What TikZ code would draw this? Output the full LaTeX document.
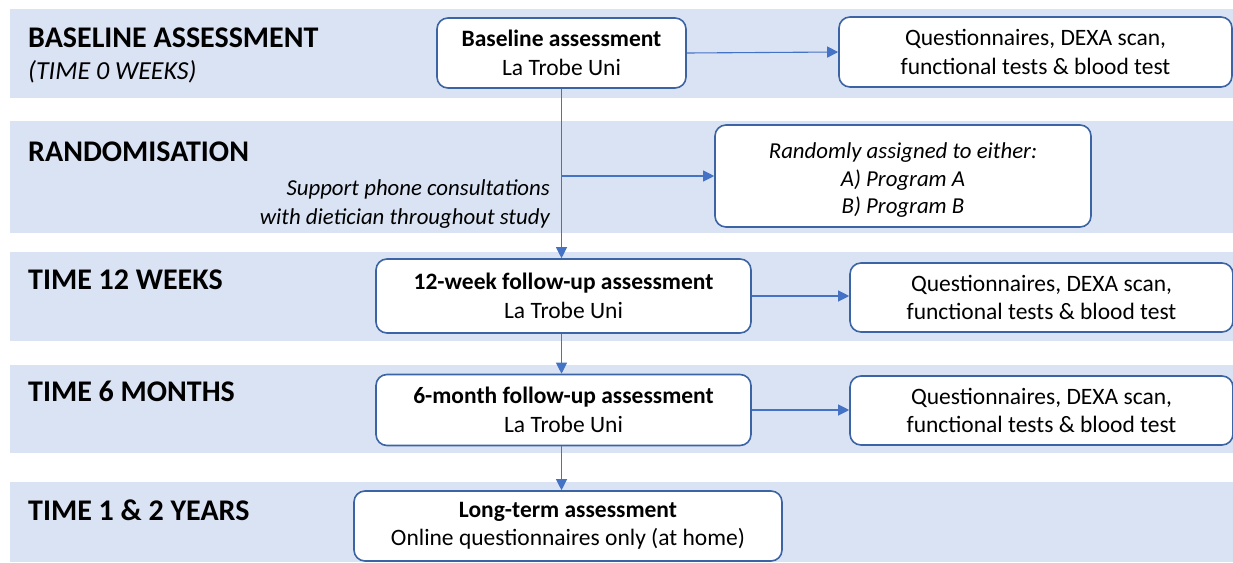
\documentclass[tikz,border=0pt]{standalone}
\usepackage{fontspec}
\setmainfont{Carlito}
\usetikzlibrary{arrows.meta}
\definecolor{bandfill}{RGB}{218,227,243}
\definecolor{boxline}{RGB}{60,100,165}
\definecolor{arrowcol}{RGB}{68,114,196}
\tikzset{
  band/.style={fill=bandfill, draw=none},
  stagelabel/.style={anchor=west, inner sep=0pt, font=\fontsize{30}{34}\selectfont\bfseries},
  stepbox/.style={draw=boxline, line width=1.6pt, fill=white, rounded corners=11pt,
    align=center, inner sep=0pt, font=\fontsize{23.5}{28.5}\selectfont},
  conn/.style={draw=arrowcol, line width=1.1pt},
  arr/.style={conn, -{Triangle[length=11pt,width=11pt]}},
}
\begin{document}
\begin{tikzpicture}[x=1pt,y=-1pt]
\useasboundingbox (0,0) rectangle (1233,562);

% horizontal stage bands
\fill[band] (10,9)   rectangle (1233,98);
\fill[band] (10,121) rectangle (1233,233);
\fill[band] (10,252) rectangle (1233,341);
\fill[band] (10,365) rectangle (1233,453);
\fill[band] (10,482) rectangle (1233,562);

% stage labels
\node[stagelabel] (l0) at (28,38) {BASELINE ASSESSMENT};
\node[stagelabel, font=\fontsize{26}{30}\selectfont\itshape] (l0b) at (28,72) {(TIME 0 WEEKS)};
\node[stagelabel] (l1) at (28,152) {RANDOMISATION};
\node[stagelabel] (l2) at (28,280) {TIME 12 WEEKS};
\node[stagelabel] (l3) at (28,391) {TIME 6 MONTHS};
\node[stagelabel] (l4) at (28,510) {TIME 1 \& 2 YEARS};

% assessment boxes
\node[stepbox, minimum width=249pt, minimum height=70pt] (base) at (561.5,53)
  {\textbf{Baseline assessment}\\La Trobe Uni};
\node[stepbox, minimum width=393pt, minimum height=70pt] (q0) at (1035.5,52)
  {Questionnaires, DEXA scan,\\functional tests \& blood test};
\node[stepbox, minimum width=376pt, minimum height=102pt, font=\fontsize{22.8}{27.5}\selectfont\itshape] (rand) at (903,176)
  {\rule{0pt}{24pt}Randomly assigned to either:\\A) Program A\\B) Program B};
\node[anchor=east, align=right, inner sep=0pt, font=\fontsize{22.8}{29}\selectfont\itshape] (support) at (550,204)
  {Support phone consultations\\with dietician throughout study};
\node[stepbox, minimum width=375pt, minimum height=74pt] (w12) at (563.5,296)
  {\textbf{12-week follow-up assessment}\\La Trobe Uni};
\node[stepbox, minimum width=383pt, minimum height=69pt] (q12) at (1041.5,297.5)
  {Questionnaires, DEXA scan,\\functional tests \& blood test};
\node[stepbox, minimum width=375pt, minimum height=71pt] (m6) at (563.5,410)
  {\textbf{6-month follow-up assessment}\\La Trobe Uni};
\node[stepbox, minimum width=383pt, minimum height=69pt] (q6) at (1041.5,410.5)
  {Questionnaires, DEXA scan,\\functional tests \& blood test};
\node[stepbox, minimum width=428pt, minimum height=70pt] (lt) at (568,526)
  {\textbf{Long-term assessment}\\Online questionnaires only (at home)};

% connectors
\coordinate (split) at (base.south |- rand.west);
\draw[arr] (base.south) -- (base.south |- w12.north);
\draw[arr] (split) -- (rand.west);
\draw[arr] (base.east) -- (q0.west);
\draw[arr] (w12.east) -- (w12.east -| q12.west);
\draw[arr] (w12.south -| base.south) -- (m6.north -| base.south);
\draw[arr] (m6.east) -- (m6.east -| q6.west);
\draw[arr] (m6.south -| base.south) -- (lt.north -| base.south);
\end{tikzpicture}
\end{document}
